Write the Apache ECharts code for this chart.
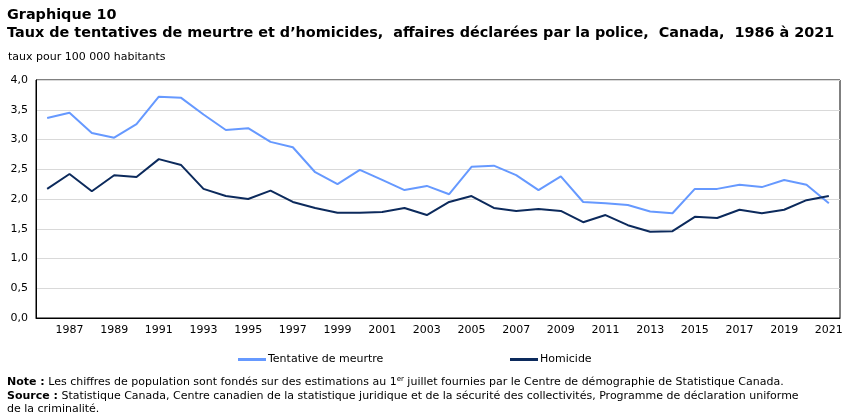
<!DOCTYPE html>
<html><head><meta charset="utf-8">
<script src="https://cdn.jsdelivr.net/npm/echarts@6/dist/echarts.min.js"></script>
<style>html,body{margin:0;padding:0;background:#fff}#c{width:851px;height:416px}</style>
</head><body><div id="c"></div>
<script>
const years = [];
for (let y = 1986; y <= 2021; y++) years.push(String(y));
const tentative = [3.36,3.45,3.11,3.03,3.26,3.72,3.70,3.42,3.16,3.19,2.96,2.87,2.45,2.25,2.49,2.32,2.15,2.22,2.08,2.54,2.56,2.40,2.15,2.38,1.95,1.93,1.90,1.79,1.76,2.17,2.17,2.24,2.20,2.32,2.24,1.93];
const homicide = [2.17,2.42,2.13,2.40,2.37,2.67,2.57,2.17,2.05,2.00,2.14,1.95,1.85,1.77,1.77,1.78,1.85,1.73,1.95,2.05,1.85,1.80,1.83,1.80,1.61,1.73,1.56,1.45,1.46,1.70,1.68,1.82,1.76,1.82,1.98,2.05];
const yTicks = [0,0.5,1,1.5,2,2.5,3,3.5,4];

const F = '"DejaVu Sans", Verdana, sans-serif';
const chart = echarts.init(document.getElementById('c'), null, {renderer:'canvas'});
chart.setOption({
  animation:false,
  textStyle:{fontFamily:F},
  title:[
    {text:'Graphique 10', left:7, top:8, padding:0, textStyle:{fontFamily:F,fontSize:14.4,fontWeight:'bold',color:'#000'}},
    {text:'Taux de tentatives de meurtre et d\u2019homicides,  affaires déclarées par la police,  Canada,  1986 à 2021', left:7, top:26, padding:0, textStyle:{fontFamily:F,fontSize:14.4,fontWeight:'bold',color:'#000'}},
    {text:'taux pour 100 000 habitants', left:8, top:52, padding:0, textStyle:{fontFamily:F,fontSize:11,fontWeight:'normal',color:'#000'}}
  ],
  grid:{left:36, right:11, top:80, bottom:98, show:true, borderColor:'#000', borderWidth:1},
  xAxis:{type:'category', data:years, boundaryGap:true,
    axisLine:{lineStyle:{color:'#000'}},
    axisTick:{interval:0, length:5, lineStyle:{color:'#000'}},
    axisLabel:{interval:(i)=>i%2===1, color:'#000', fontSize:11, fontFamily:F, margin:7}
  },
  yAxis:{type:'value', min:0, max:4, interval:0.5,
    axisLine:{show:true, lineStyle:{color:'#000'}},
    axisTick:{show:false},
    splitLine:{lineStyle:{color:'#d9d9d9'}},
    axisLabel:{color:'#000', fontSize:11, fontFamily:F, margin:8,
      formatter:(v)=>v.toFixed(1).replace('.',',')}
  },
  legend:[
    {data:['Tentative de meurtre'], left:233, top:349, itemWidth:28, itemHeight:3, itemGap:0, icon:'rect', textStyle:{fontFamily:F,fontSize:11,color:'#000',padding:[0,0,0,-3]}},
    {data:['Homicide'], left:505, top:349, itemWidth:28, itemHeight:3, icon:'rect', textStyle:{fontFamily:F,fontSize:11,color:'#000',padding:[0,0,0,-3]}}
  ],
  series:[
    {name:'Tentative de meurtre', type:'line', data:tentative, symbol:'none', lineStyle:{color:'#6699ff', width:2}, itemStyle:{color:'#6699ff'}},
    {name:'Homicide', type:'line', data:homicide, symbol:'none', lineStyle:{color:'#0c2a5c', width:2}, itemStyle:{color:'#0c2a5c'}}
  ],
  graphic:[
    {type:'text', left:7, top:376, style:{
      text:'{b|Note :} Les chiffres de population sont fondés sur des estimations au 1{s|er} juillet fournies par le Centre de démographie de Statistique Canada.',
      font:'11px '+F, fill:'#000',
      rich:{b:{fontWeight:'bold',fontSize:11,fontFamily:F}, s:{fontSize:7,fontFamily:F,verticalAlign:'top',padding:[0,0,5,0]}}
    }},
    {type:'text', left:7, top:390, style:{
      text:'{b|Source :} Statistique Canada, Centre canadien de la statistique juridique et de la sécurité des collectivités, Programme de déclaration uniforme\nde la criminalité.',
      font:'11px '+F, fill:'#000', lineHeight:13,
      rich:{b:{fontWeight:'bold',fontSize:11,fontFamily:F,lineHeight:13}}
    }}
  ]
});
</script></body></html>
